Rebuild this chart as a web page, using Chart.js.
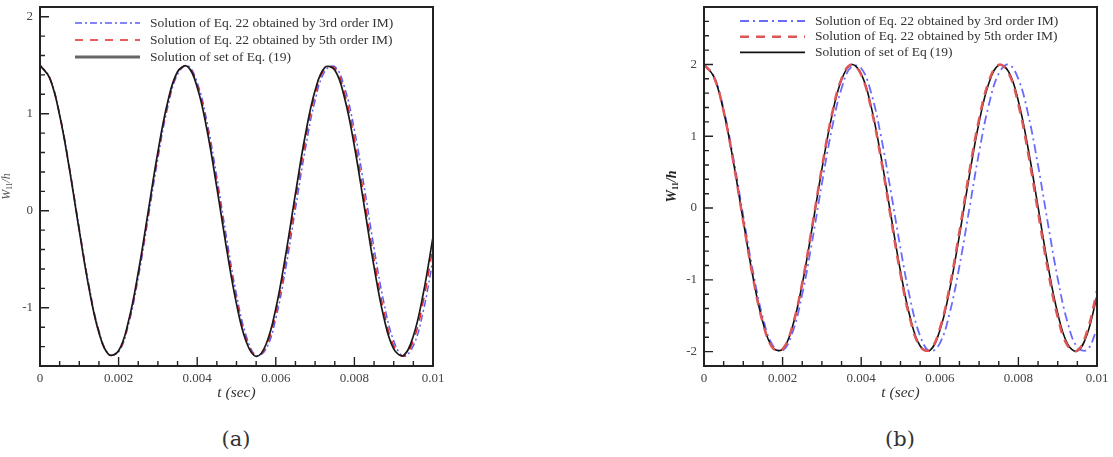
<!DOCTYPE html>
<html>
<head>
<meta charset="utf-8">
<script src="https://cdn.jsdelivr.net/npm/chart.js@4/dist/chart.umd.min.js"></script>
<style>
   html, body { margin: 0; padding: 0; background: #fff; }
   body { width: 1113px; height: 457px; position: relative; overflow: hidden; }
   canvas { position: absolute; top: 0; }
   #graphique1 { left: 0; }
   #graphique2 { left: 600px; }
   .legende_bas { position: absolute; top: 427px; font-family: "DejaVu Serif", serif; font-size: 21px; line-height: 24px; color: #333; transform: translateX(-50%); }
</style>
</head>
<body>
<canvas id="graphique1" width="450" height="400"></canvas>
<canvas id="graphique2" width="513" height="400"></canvas>
<div class="legende_bas" style="left:236px">(a)</div>
<div class="legende_bas" style="left:900px">(b)</div>
<script>
// temps (sec)
const temps = [0, 0.00025, 0.0005, 0.00075, 0.001, 0.00125, 0.0015, 0.00175, 0.002, 0.00225,
   0.0025, 0.00275, 0.003, 0.00325, 0.0035, 0.00375, 0.004, 0.00425, 0.0045, 0.00475,
   0.005, 0.00525, 0.0055, 0.00575, 0.006, 0.00625, 0.0065, 0.00675, 0.007, 0.00725,
   0.0075, 0.00775, 0.008, 0.00825, 0.0085, 0.00875, 0.009, 0.00925, 0.0095, 0.00975, 0.01];

// graduations
const graduationsX = [0, 0.002, 0.004, 0.006, 0.008, 0.01];
const graduationsYA = [-1, 0, 1, 2];
const graduationsYB = [-2, -1, 0, 1, 2];

// (a) W11/h
const bleuA = [1.500, 1.368, 0.994, 0.444, -0.184, -0.779, -1.237, -1.476, -1.455, -1.176,
   -0.690, -0.082, 0.540, 1.068, 1.406, 1.497, 1.322, 0.915, 0.346, -0.285,
   -0.865, -1.292, -1.491, -1.427, -1.111, -0.598, 0.020, 0.634, 1.137, 1.439,
   1.486, 1.271, 0.832, 0.246, -0.384, -0.946, -1.341, -1.499, -1.392, -1.039, -0.503];
const rougeA = [1.500, 1.366, 0.988, 0.434, -0.197, -0.794, -1.249, -1.480, -1.448, -1.157,
   -0.660, -0.045, 0.578, 1.098, 1.422, 1.492, 1.296, 0.868, 0.286, -0.348,
   -0.919, -1.327, -1.497, -1.401, -1.054, -0.519, 0.108, 0.716, 1.197, 1.463,
   1.469, 1.212, 0.739, 0.134, -0.495, -1.035, -1.391, -1.499, -1.339, -0.940, -0.373];
const noirA = [1.500, 1.365, 0.984, 0.427, -0.208, -0.805, -1.257, -1.483, -1.443, -1.142,
   -0.636, -0.016, 0.607, 1.121, 1.433, 1.488, 1.274, 0.832, 0.239, -0.396,
   -0.960, -1.352, -1.500, -1.378, -1.008, -0.457, 0.176, 0.778, 1.239, 1.478,
   1.451, 1.162, 0.665, 0.048, -0.578, -1.100, -1.424, -1.491, -1.291, -0.858, -0.271];

// (b) W11/h
const bleuB = [2.000, 1.837, 1.373, 0.686, -0.114, -0.895, -1.530, -1.915, -1.987, -1.735,
   -1.199, -0.468, 0.340, 1.093, 1.666, 1.968, 1.948, 1.610, 1.010, 0.244,
   -0.562, -1.276, -1.781, -1.996, -1.884, -1.465, -0.807, -0.016, 0.777, 1.443,
   1.873, 1.998, 1.796, 1.301, 0.593, -0.211, -0.981, -1.590, -1.941, -1.974, -1.684];
const rougeB = [2.000, 1.829, 1.345, 0.631, -0.191, -0.980, -1.602, -1.949, -1.964, -1.642,
   -1.039, -0.259, 0.566, 1.293, 1.800, 1.999, 1.855, 1.395, 0.695, -0.123,
   -0.920, -1.560, -1.933, -1.975, -1.680, -1.097, -0.326, 0.500, 1.241, 1.770,
   1.995, 1.880, 1.443, 0.759, -0.055, -0.860, -1.517, -1.915, -1.985, -1.716, -1.153];
const noirB = [2.000, 1.830, 1.348, 0.637, -0.183, -0.971, -1.595, -1.946, -1.967, -1.652,
   -1.057, -0.281, 0.542, 1.273, 1.787, 1.998, 1.868, 1.420, 0.730, -0.083,
   -0.883, -1.532, -1.921, -1.982, -1.706, -1.140, -0.380, 0.445, 1.195, 1.741,
   1.990, 1.901, 1.488, 0.822, 0.016, -0.793, -1.466, -1.891, -1.993, -1.756, -1.220];

const legendeA = ['Solution of Eq. 22 obtained by 3rd order IM)', 'Solution of Eq. 22 obtained by 5th order IM)', 'Solution of set of Eq. (19)'];
const legendeB = ['Solution of Eq. 22 obtained by 3rd order IM)', 'Solution of Eq. 22 obtained by 5th order IM)', 'Solution of set of Eq (19)'];

const POLICE = "'Liberation Serif', 'Times New Roman', serif";

// cadre, graduations internes, légende et titres d'axes
const cadre = {
   id: 'cadre',
   afterDatasetsDraw(chart, args, opts) {
      const { ctx, chartArea: a, scales: { x, y } } = chart;
      ctx.save();
      ctx.strokeStyle = '#222';
      ctx.lineWidth = 1.4;
      ctx.beginPath();
      for (let k = 0; k <= 20; k++) {
         const px = x.getPixelForValue(k * 0.0005);
         const len = k % 4 === 0 ? 9 : 5;
         ctx.moveTo(px, a.bottom);
         ctx.lineTo(px, a.bottom - len);
      }
      for (let k = Math.ceil(y.min * 5 - 1e-6); k <= Math.floor(y.max * 5 + 1e-6); k++) {
         const py = y.getPixelForValue(k / 5);
         const len = k % 5 === 0 ? 9 : 5;
         ctx.moveTo(a.left, py);
         ctx.lineTo(a.left + len, py);
      }
      ctx.stroke();
      ctx.lineWidth = 2;
      ctx.strokeRect(a.left, a.top, a.right - a.left, a.bottom - a.top);

      // légende
      ctx.font = opts.taille + 'px ' + POLICE;
      ctx.textBaseline = 'middle';
      ctx.textAlign = 'left';
      [0, 1, 2].forEach((i, r) => {
         const ds = chart.data.datasets[i];
         const yy = a.top + opts.haut + r * opts.ecart;
         ctx.save();
         ctx.strokeStyle = ds.couleurLegende || ds.borderColor;
         ctx.lineWidth = ds.epaisseurLegende || ds.borderWidth;
         ctx.setLineDash(ds.borderDash || []);
         ctx.beginPath();
         ctx.moveTo(a.left + opts.debut, yy);
         ctx.lineTo(a.left + opts.debut + opts.longueur, yy);
         ctx.stroke();
         ctx.restore();
         ctx.fillStyle = '#333';
         ctx.fillText(ds.label, a.left + opts.debut + opts.longueur + 10, yy);
      });

      // titre axe x
      ctx.font = 'italic 15.5px ' + POLICE;
      ctx.textAlign = 'center';
      ctx.fillStyle = '#333';
      ctx.fillText('t (sec)', (a.left + a.right) / 2, opts.titreX);

      // titre axe y : W11/h
      const morceaux = [['W', opts.tailleY, 0, true], ['11', opts.tailleY * 0.6, opts.tailleY * 0.3, false], ['/h', opts.tailleY, 0, true]];
      const police = (m) => (m[3] ? 'italic ' : '') + (opts.gras ? 'bold ' : '') + m[1] + 'px ' + POLICE;
      let total = 0;
      morceaux.forEach(m => { ctx.font = police(m); total += ctx.measureText(m[0]).width; });
      ctx.translate(opts.titreY, (a.top + a.bottom) / 2);
      ctx.rotate(-Math.PI / 2);
      ctx.textAlign = 'left';
      ctx.fillStyle = opts.couleurY;
      let xx = -total / 2;
      morceaux.forEach(m => {
         ctx.font = police(m);
         ctx.fillText(m[0], xx, m[2]);
         xx += ctx.measureText(m[0]).width;
      });
      ctx.restore();
   }
};

function graphique(element, series, legende, styles, yMin, yMax, graduationsY, largeurY, reglages) {
   const datasets = series.map((valeurs, i) => ({
      label: legende[i],
      data: temps.map((t, j) => ({ x: t, y: valeurs[j] })),
      borderColor: styles[i].couleur,
      borderWidth: styles[i].epaisseur,
      borderDash: styles[i].tirets,
      couleurLegende: styles[i].couleurLegende,
      epaisseurLegende: styles[i].epaisseurLegende,
      order: styles[i].ordre,
      pointRadius: 0,
      tension: 0.4,
      fill: false
   }));
   return new Chart(element, {
      type: 'line',
      data: { datasets: datasets },
      options: {
         responsive: false,
         animation: false,
         events: [],
         layout: { padding: { top: 7, right: reglages.droite, left: 0, bottom: 0 } },
         scales: {
            x: {
               type: 'linear',
               min: 0,
               max: 0.01,
               afterFit: s => { s.height = 34; s.paddingLeft = 0; s.paddingRight = 0; },
               afterBuildTicks: s => { s.ticks = graduationsX.map(v => ({ value: v })); },
               grid: { display: false, drawTicks: false },
               border: { display: false },
               ticks: {
                  padding: 5,
                  maxRotation: 0,
                  autoSkip: false,
                  color: '#444',
                  font: { family: POLICE, size: 13 },
                  callback: v => String(+v.toFixed(3))
               }
            },
            y: {
               type: 'linear',
               min: yMin,
               max: yMax,
               afterFit: s => { s.width = largeurY; s.paddingTop = 0; s.paddingBottom = 0; },
               afterBuildTicks: s => { s.ticks = graduationsY.map(v => ({ value: v })); },
               grid: { display: false, drawTicks: false },
               border: { display: false },
               ticks: {
                  padding: 7,
                  autoSkip: false,
                  color: '#444',
                  font: { family: POLICE, size: 13 },
                  callback: v => String(v)
               }
            }
         },
         plugins: {
            legend: { display: false },
            tooltip: { enabled: false },
            cadre: reglages
         }
      },
      plugins: [cadre]
   });
}

graphique(document.getElementById('graphique1'), [bleuA, rougeA, noirA], legendeA, [
   { couleur: '#5c5cf5', epaisseur: 1.5, tirets: [7, 3, 2, 3], ordre: 2 },
   { couleur: '#e02828', epaisseur: 1.5, tirets: [8, 7], ordre: 1 },
   { couleur: '#1a1a1a', epaisseur: 1.7, tirets: [], ordre: 0, couleurLegende: '#666', epaisseurLegende: 3 }
], -1.6, 2.1, graduationsYA, 40, { droite: 17, taille: 13.5, haut: 16, ecart: 17, debut: 35, longueur: 65, titreX: 393, titreY: 7, tailleY: 12, gras: false, couleurY: '#555' });

graphique(document.getElementById('graphique2'), [bleuB, rougeB, noirB], legendeB, [
   { couleur: '#6a6aff', epaisseur: 1.8, tirets: [9, 4, 2, 4], ordre: 2 },
   { couleur: '#e05555', epaisseur: 2.5, tirets: [9, 7], ordre: 0 },
   { couleur: '#111', epaisseur: 1.6, tirets: [], ordre: 1 }
], -2.2, 2.8, graduationsYB, 104, { droite: 16, taille: 13.5, haut: 14, ecart: 15.7, debut: 36, longueur: 65, titreX: 393, titreY: 72, tailleY: 14, gras: true, couleurY: '#222' });
</script>
</body>
</html>
